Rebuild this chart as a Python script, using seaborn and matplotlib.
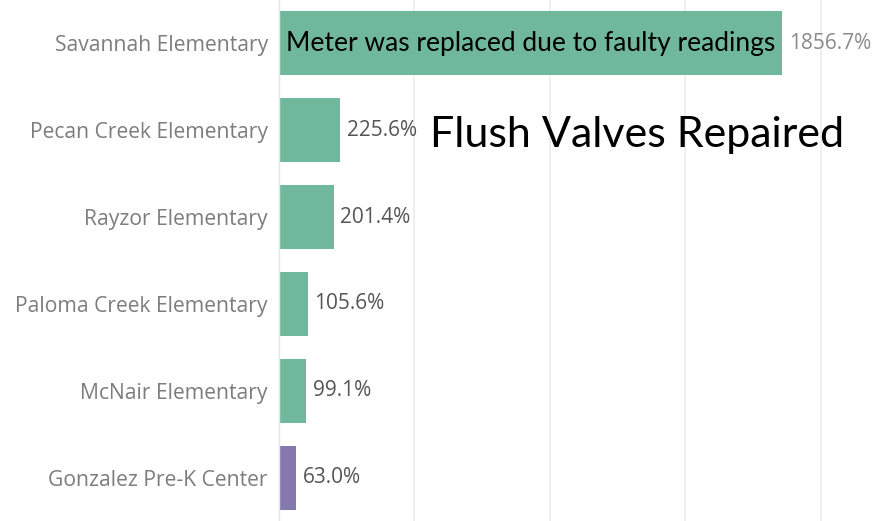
import matplotlib
matplotlib.use("Agg")
import matplotlib.pyplot as plt
import seaborn as sns
import pandas as pd

schools = ["Savannah Elementary", "Pecan Creek Elementary", "Rayzor Elementary",
           "Paloma Creek Elementary", "McNair Elementary", "Gonzalez Pre-K Center"]
values = [1856.7, 225.6, 201.4, 105.6, 99.1, 63.0]
groups = ["high", "high", "high", "high", "high", "low"]
value_labels = ["1856.7%", "225.6%", "201.4%", "105.6%", "99.1%", "63.0%"]
palette = {"high": "#6fb89b", "low": "#8478ad"}

df = pd.DataFrame({"school": schools, "value": values, "group": groups})

sns.set_theme(style="white")
plt.rcParams['font.family'] = ['Open Sans', 'DejaVu Sans']

fig = plt.figure(figsize=(8.89, 5.21), dpi=100)
ax = fig.add_axes([279 / 889, 0.0, 1 - 279 / 889, 1.0])

sns.barplot(data=df, y="school", x="value", hue="group", palette=palette,
            dodge=False, width=0.736, legend=False, ax=ax, saturation=1,
            edgecolor="none")

ax.set_xlim(0, 2252)
ax.set_ylim(len(schools) - 0.5, -0.5)
ax.set_xticks([500, 1000, 1500, 2000])
ax.set_xticklabels([])
ax.tick_params(axis="x", length=0)
ax.grid(axis="x", color="#ececec", linewidth=1.2)
ax.set_axisbelow(True)
for s in ["top", "right", "bottom"]:
    ax.spines[s].set_visible(False)
ax.spines["left"].set_color("#e4e4e4")
ax.spines["left"].set_linewidth(1)
ax.set_xlabel("")
ax.set_ylabel("")
ax.tick_params(axis="y", length=0, pad=8, labelsize=15.2, labelcolor="#7d7d7d")

for i, (v, lab) in enumerate(zip(values, value_labels)):
    col = "#8a8a8a" if i == 0 else "#555555"
    ax.annotate(lab, xy=(v, i), xytext=(5, 0), textcoords="offset points",
                ha="left", va="center", fontsize=15, color=col)

ax.text(values[0] / 2, 0, "Meter was replaced due to faulty readings",
        ha="center", va="center", fontsize=19, color="black", family=['Lato'])
ax.text(557, 1.05, "Flush Valves Repaired", ha="left", va="center",
        fontsize=31, color="black", family=['Lato'])

fig.savefig("out.png", dpi=100)
